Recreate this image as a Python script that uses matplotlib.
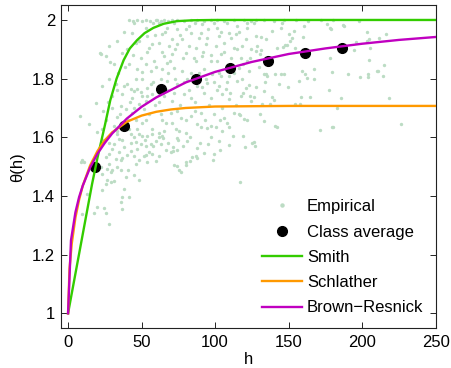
import matplotlib
matplotlib.use("Agg")
import matplotlib.pyplot as plt
from matplotlib.lines import Line2D

plt.rcParams['font.family'] = ['Liberation Sans', 'DejaVu Sans']

# class averages
avg_h = [18, 38, 63, 87, 110, 136, 161, 186]
avg_theta = [1.50, 1.64, 1.763, 1.798, 1.835, 1.86, 1.886, 1.904]

# fitted curves
smith_h = [0, 5, 10, 16.3, 20, 25, 28.7, 33, 37.8, 42, 46.9, 52, 58, 65, 74, 85, 100, 150, 200, 250]
smith_theta = [1.0, 1.135, 1.27, 1.44, 1.53, 1.64, 1.726, 1.80, 1.863, 1.903, 1.931, 1.955,
               1.973, 1.987, 1.996, 1.999, 2.0, 2.0, 2.0, 2.0]

schl_h = [0, 1, 2.5, 5, 7.5, 10, 15, 20, 25, 30, 40, 50, 60, 70, 80, 100, 125, 150, 200, 250]
schl_theta = [1.0, 1.152, 1.237, 1.326, 1.387, 1.435, 1.504, 1.553, 1.590, 1.617, 1.653, 1.674,
              1.687, 1.695, 1.700, 1.705, 1.706, 1.707, 1.707, 1.707]

br_h = [0, 2, 5, 7.5, 10, 15, 20, 25, 30, 40, 50, 60, 80, 100, 125, 150, 175, 200, 225, 250]
br_theta = [1.0, 1.249, 1.344, 1.396, 1.435, 1.497, 1.544, 1.581, 1.613, 1.664, 1.704, 1.736,
            1.787, 1.823, 1.857, 1.884, 1.903, 1.919, 1.932, 1.942]

# empirical pairwise estimates, grouped by area of the plot
top_h = [41.4, 44.1, 47, 50, 53.2, 55.5, 59.5, 60.7, 63, 65.2, 68, 70.9, 74.3, 78.8, 83.3, 87.9,
         92.4, 96.9, 101.5, 106, 112.8, 119.6, 124.1, 128, 133, 140, 147, 155, 163, 172, 180]
top_theta = [2.0, 1.998, 2.0, 1.997, 2.0, 1.998, 2.0, 2.0, 1.997, 2.0, 1.998, 2.0, 2.0, 1.997, 2.0,
             2.0, 1.998, 2.0, 2.0, 1.997, 2.0, 2.0, 1.998, 2.0, 2.0, 1.997, 2.0, 2.0, 1.998, 2.0, 2.0]

left_h = [27.8, 22.2, 25.6, 36.9, 31.2, 41.4, 22.8, 32.4, 38.0, 40.3, 42.6, 44.8, 47.1, 49.3, 36.9,
          35.8, 43.7, 53.9, 50.5, 52.7, 39.2, 43.7, 48.2, 51.6, 7.9, 14.2, 18.8, 49.3, 52.7, 56.1,
          50.5, 55.0, 57.3, 58.4, 53.9, 48.2, 52.7, 43.7, 50.5, 47.1, 56.1, 57.3, 21.5, 28.7, 30,
          26, 33, 46, 55, 59]
left_theta = [1.911, 1.883, 1.877, 1.889, 1.849, 1.849, 1.775, 1.781, 1.775, 1.781, 1.764, 1.758,
              1.764, 1.756, 1.747, 1.707, 1.735, 1.769, 1.741, 1.724, 1.696, 1.684, 1.713, 1.696,
              1.673, 1.645, 1.718, 1.872, 1.849, 1.826, 1.798, 1.906, 1.917, 1.860, 1.946, 1.929,
              1.974, 1.957, 1.821, 1.832, 1.781, 1.747, 1.888, 1.857, 1.70, 1.66, 1.67, 1.66,
              1.68, 1.71]

low_h = [19.9, 23.3, 34.6, 33.5, 41.4, 42.6, 44.8, 48.2, 50.5, 53.9, 57.3, 46.0, 49.3, 52.7, 56.1,
         59.5, 31.2, 30.1, 34.6, 38.0, 27.8, 25.6, 32.4, 35.8, 42.6, 44.8, 51.6, 57.3, 48.2, 53.9,
         9.7, 10.8, 8.6, 22.2, 26.7, 30.1, 29.0, 35.8, 39.2, 44.8, 48.2, 23.3, 26.7, 31.2, 29.0,
         25.6, 13.1, 23.3, 38.0, 36.9, 41.4, 35.8, 19.9, 24.4, 25.6, 17.6, 9.7, 27.8, 36.9]
low_theta = [1.617, 1.628, 1.595, 1.623, 1.629, 1.612, 1.600, 1.612, 1.606, 1.606, 1.612, 1.583,
             1.578, 1.572, 1.578, 1.589, 1.578, 1.561, 1.549, 1.566, 1.544, 1.532, 1.527, 1.521,
             1.555, 1.538, 1.538, 1.544, 1.521, 1.515, 1.521, 1.515, 1.517, 1.498, 1.492, 1.487,
             1.481, 1.487, 1.464, 1.470, 1.453, 1.475, 1.453, 1.450, 1.447, 1.441, 1.407, 1.419,
             1.424, 1.396, 1.396, 1.379, 1.362, 1.358, 1.341, 1.341, 1.339, 1.305, 1.356]

mid_h = [82.2, 91.3, 101.5, 115.0, 121.8, 67.5, 74.3, 64.1, 83.3, 90.1, 94.7, 102.6, 109.4, 113.9,
         120.7, 70.9, 77.7, 61.8, 68.6, 74.3, 86.7, 93.5, 100.3, 106.0, 112.8, 118.4, 124.1, 65.2,
         70.9, 79.9, 85.6, 91.3, 96.9, 103.7, 117.3, 121.8, 67.5, 64.1, 72.0, 77.7, 83.3, 92.4,
         98.1, 102.6, 109.4, 116.2, 123.0, 67.5, 74.3, 81.1, 87.9, 94.7, 102.6, 107.1, 115.0, 120.7,
         61.8, 65.2, 70.9, 78.8, 83.3, 92.4, 96.9, 104.9, 109.4, 117.3, 124.1, 63.0, 69.8, 76.6,
         83.3, 90.1, 99.2, 106.0, 112.8, 119.6, 66.4, 87.9]
mid_theta = [1.979, 1.985, 1.974, 1.979, 1.974, 1.974, 1.968, 1.951, 1.957, 1.957, 1.940, 1.945,
             1.957, 1.951, 1.934, 1.934, 1.934, 1.922, 1.911, 1.917, 1.905, 1.917, 1.911, 1.922,
             1.905, 1.911, 1.900, 1.877, 1.883, 1.888, 1.871, 1.877, 1.860, 1.883, 1.871, 1.860,
             1.854, 1.832, 1.837, 1.826, 1.820, 1.832, 1.815, 1.820, 1.809, 1.837, 1.826, 1.792,
             1.781, 1.798, 1.775, 1.786, 1.775, 1.763, 1.792, 1.769, 1.769, 1.741, 1.724, 1.746,
             1.735, 1.752, 1.735, 1.746, 1.729, 1.741, 1.724, 1.678, 1.684, 1.667, 1.673, 1.684,
             1.678, 1.667, 1.684, 1.661, 1.650, 1.644]

midlow_h = [61.8, 64.1, 64.8, 61.8, 63.0, 66.4, 61.8, 69.8, 71.3, 71.6, 74.3, 73.8, 74.7, 73.2,
            75.4, 79.9, 81.1, 72.0, 74.3, 75.4, 76.6, 79.9, 80.4, 82.7, 84.5, 86.7, 87.9, 87.9,
            92.4, 95.3, 98.3, 99.2, 102.6, 103.3, 109.4, 112.3, 118.9, 120.0, 125.2, 116.6, 90.1,
            94.7, 100.3, 109.4, 117, 127.4, 126.4, 142, 171.6, 179.5]
midlow_theta = [1.614, 1.603, 1.598, 1.600, 1.578, 1.557, 1.538, 1.549, 1.553, 1.566, 1.557,
                1.597, 1.591, 1.629, 1.623, 1.614, 1.589, 1.506, 1.501, 1.489, 1.481, 1.507,
                1.517, 1.519, 1.534, 1.538, 1.530, 1.563, 1.546, 1.578, 1.521, 1.544, 1.589,
                1.558, 1.575, 1.603, 1.604, 1.566, 1.580, 1.449, 1.634, 1.631, 1.634, 1.634,
                1.675, 1.572, 1.583, 1.634, 1.625, 1.634]

right_h = [126.3, 145.6, 176.1, 187.5, 145.1, 153.5, 138.8, 160.3, 178.5, 127.5, 131.5, 134.9,
           150.1, 152, 150.6, 159.6, 147.5, 149, 146, 142.2, 128.5, 127.5, 131.5, 130.8, 154.6,
           129.7, 133.1, 134.5, 135.5, 140.6, 144.8, 147, 143.3, 134.2, 149.7, 157, 159.2, 161.4,
           162.5, 167.1, 167.1, 178.4, 179.5, 177.7, 185.9, 164.8, 158.7, 127.5, 126.3, 133,
           138.8, 140, 132, 137.5, 154.6, 157.5, 182.9, 130.8, 133.1, 141]
right_theta = [1.988, 1.988, 1.985, 1.980, 1.974, 1.963, 1.963, 1.980, 1.968, 1.945, 1.942, 1.934,
               1.951, 1.940, 1.928, 1.942, 1.915, 1.915, 1.908, 1.906, 1.912, 1.894, 1.897, 1.883,
               1.903, 1.838, 1.815, 1.817, 1.810, 1.815, 1.817, 1.817, 1.781, 1.787, 1.770, 1.792,
               1.826, 1.815, 1.803, 1.832, 1.798, 1.872, 1.824, 1.760, 1.733, 1.738, 1.736, 1.772,
               1.736, 1.757, 1.738, 1.727, 1.713, 1.713, 1.713, 1.713, 1.701, 1.681, 1.654, 1.639]

far_h = [198.1, 203.3, 204.5, 203.5, 211.3, 216.4, 196.1, 194.3, 205.6, 204.5, 215.1, 210.8, 214.2,
         204, 204, 198.8, 190.4, 218.5, 226.6, 209.9, 178.2, 187.2, 180]
far_theta = [1.997, 1.960, 1.934, 1.930, 1.938, 1.951, 1.926, 1.897, 1.906, 1.863, 1.847, 1.826,
             1.809, 1.817, 1.804, 1.807, 1.817, 1.733, 1.645, 1.826, 1.971, 1.982, 1.635]

# denser core of the cloud
core_h = [33, 38, 45, 40, 46, 58, 34, 39, 44, 46, 54, 59, 28, 30, 33, 42, 45, 54, 58, 60,
          37, 41, 50, 53, 57, 27, 24, 31, 35, 47,
          62, 66, 72, 76, 80, 86, 89, 95, 99, 104, 108, 111, 116, 122,
          64, 69, 73, 78, 82, 87, 92, 97, 101, 106, 111, 115, 119, 124,
          63, 68, 73, 79, 84, 89, 94, 99, 104, 108, 113, 118, 123,
          62, 67, 72, 76, 82, 86, 91, 96, 101, 105, 110, 114, 119, 124,
          64, 71, 74, 80, 86, 93, 97, 103, 108, 116, 122,
          21, 24, 28, 33, 37, 40, 43, 47, 52, 55, 58, 28, 33, 37, 41, 46, 53, 60,
          65, 68, 78, 83, 90, 97, 105]
core_theta = [1.93, 1.96, 1.99, 1.90, 1.92, 1.99, 1.82, 1.84, 1.88, 1.80, 1.89, 1.95, 1.80, 1.74,
              1.76, 1.72, 1.70, 1.74, 1.79, 1.84, 1.65, 1.66, 1.65, 1.66, 1.63, 1.72, 1.69, 1.64,
              1.68, 1.63,
              1.99, 1.96, 1.99, 1.95, 1.97, 1.99, 1.94, 1.97, 1.99, 1.96, 1.99, 1.94, 1.96, 1.99,
              1.89, 1.86, 1.90, 1.87, 1.91, 1.86, 1.89, 1.88, 1.86, 1.89, 1.87, 1.90, 1.85, 1.87,
              1.80, 1.82, 1.80, 1.79, 1.80, 1.82, 1.80, 1.79, 1.81, 1.79, 1.82, 1.80, 1.78,
              1.72, 1.76, 1.75, 1.71, 1.76, 1.72, 1.77, 1.71, 1.76, 1.70, 1.75, 1.71, 1.75, 1.74,
              1.66, 1.65, 1.69, 1.66, 1.69, 1.66, 1.64, 1.66, 1.65, 1.68, 1.66,
              1.56, 1.59, 1.58, 1.61, 1.59, 1.54, 1.58, 1.56, 1.59, 1.55, 1.57, 1.51, 1.50, 1.53,
              1.49, 1.51, 1.54, 1.52,
              1.62, 1.58, 1.57, 1.60, 1.58, 1.60, 1.62]

emp_h = top_h + left_h + low_h + mid_h + midlow_h + right_h + far_h + core_h
emp_theta = (top_theta + left_theta + low_theta + mid_theta + midlow_theta + right_theta
             + far_theta + core_theta)

emp_color = '#bcdcc4'
green = '#33cc00'
orange = '#ff9900'
purple = '#c000c0'

fig = plt.figure(figsize=(4.52, 3.68), dpi=100)
ax = fig.add_axes([60.7 / 452, 40 / 368, 375 / 452, 322.7 / 368])

ax.scatter(emp_h, emp_theta, s=6, color=emp_color, linewidths=0, zorder=1)
ax.plot(avg_h, avg_theta, 'o', color='black', markersize=7, zorder=2)
ax.plot(smith_h, smith_theta, color=green, lw=1.7, zorder=3)
ax.plot(schl_h, schl_theta, color=orange, lw=1.7, zorder=3)
ax.plot(br_h, br_theta, color=purple, lw=1.7, zorder=4)

ax.set_xlim(-5, 250)
ax.set_ylim(0.95, 2.05)
ax.set_xticks([0, 50, 100, 150, 200, 250])
ax.set_yticks([1, 1.2, 1.4, 1.6, 1.8, 2])
ax.set_yticklabels(['1', '1.2', '1.4', '1.6', '1.8', '2'])
ax.tick_params(direction='in', length=4, width=0.6, labelsize=12, top=True, right=True)
ax.tick_params(axis='x', pad=5)
ax.tick_params(axis='y', pad=4)
for sp in ax.spines.values():
    sp.set_linewidth(0.8)
    sp.set_color('#222222')

ax.set_xlabel('h', fontsize=12)
ax.xaxis.set_label_coords(0.5, -0.075)
ax.set_ylabel('θ(h)', fontsize=12)
ax.yaxis.set_label_coords(-0.095, 0.5)

handles = [
    Line2D([], [], ls='none', marker='o', markersize=2.2, color=emp_color),
    Line2D([], [], ls='none', marker='o', markersize=7, color='black'),
    Line2D([], [], color=green, lw=1.7),
    Line2D([], [], color=orange, lw=1.7),
    Line2D([], [], color=purple, lw=1.7),
]
labels = ['Empirical', 'Class average', 'Smith', 'Schlather', 'Brown\u2212Resnick']
ax.legend(handles, labels, loc='lower right', frameon=False, fontsize=12,
          handlelength=2.4, handletextpad=0.3, labelspacing=0.62,
          borderaxespad=0.35)

fig.savefig('out.png', dpi=100)
